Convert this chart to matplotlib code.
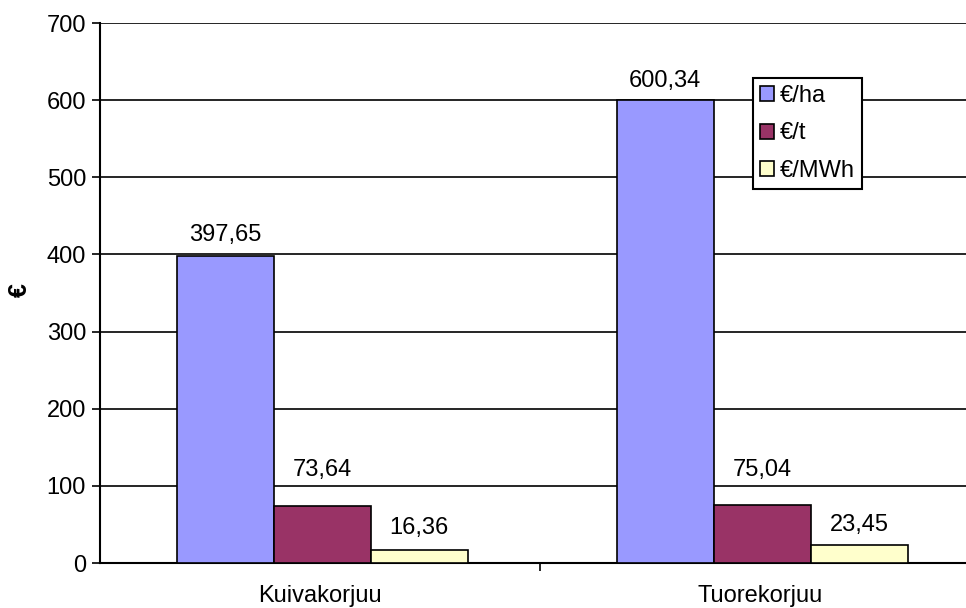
import matplotlib
matplotlib.use("Agg")
import matplotlib.pyplot as plt
import numpy as np

plt.rcParams['font.family'] = ['Liberation Sans', 'DejaVu Sans']

categories = ["Kuivakorjuu", "Tuorekorjuu"]
series_names = ["€/ha", "€/t", "€/MWh"]
eur_ha = [397.65, 600.34]
eur_t = [73.64, 75.04]
eur_mwh = [16.36, 23.45]
colors = ["#9999FF", "#993366", "#FFFFCC"]

# gap between bar top and label baseline, in points
label_gap = [[11, 9], [22, 21], [12, 10]]

FS = 17

fig = plt.figure(figsize=(9.66, 6.08), dpi=100)
# right edge runs past the figure, as in the original export
ax = fig.add_axes([100/966, 45/608, 880/966, 540/608])

x = np.arange(len(categories))
width = 0.2205
values = [eur_ha, eur_t, eur_mwh]
for i, (name, vals, c) in enumerate(zip(series_names, values, colors)):
    pos = x + 0.005 + (i - 1) * width
    ax.bar(pos, vals, width, color=c, edgecolor="black", linewidth=1.2,
           label=name, zorder=3)
    for p, v, g in zip(pos, vals, label_gap[i]):
        ax.annotate(f"{v:.2f}".replace(".", ","), (p, v),
                    xytext=(0, g), textcoords="offset points",
                    ha="center", va="baseline", fontsize=FS)

ax.set_xlim(-0.5, 1.5)
ax.set_ylim(0, 700)
ax.set_yticks(np.arange(0, 701, 100))
ax.yaxis.grid(True, color="black", linewidth=1.2)
ax.set_axisbelow(True)
ax.tick_params(axis="y", labelsize=FS, length=6, width=1.2, direction="out",
               pad=4)

# category labels at centres, tick marks at the boundaries
ax.set_xticks([0.5])
ax.set_xticklabels([""])
ax.set_xticks(x, minor=True)
ax.set_xticklabels(categories, minor=True)
ax.tick_params(axis="x", which="major", length=6, width=1.2)
ax.tick_params(axis="x", which="minor", length=0, labelsize=FS, pad=16)

for s in ["top", "right"]:
    ax.spines[s].set_visible(False)
ax.spines["left"].set_linewidth(1.5)
ax.spines["bottom"].set_linewidth(1.5)

fig.text(20/966, 1 - 290/608, "€", rotation=90, fontsize=18,
         fontweight="bold", ha="center", va="center")

leg = ax.legend(loc="upper left", bbox_to_anchor=(653/880, 1 - 55/540),
                fontsize=FS, frameon=True, fancybox=False, edgecolor="black",
                framealpha=1, handlelength=0.6, handleheight=0.6,
                handletextpad=0.25, labelspacing=0.65, borderpad=0.3,
                borderaxespad=0)
leg.get_frame().set_linewidth(1.5)

fig.savefig("out.png", dpi=100)
